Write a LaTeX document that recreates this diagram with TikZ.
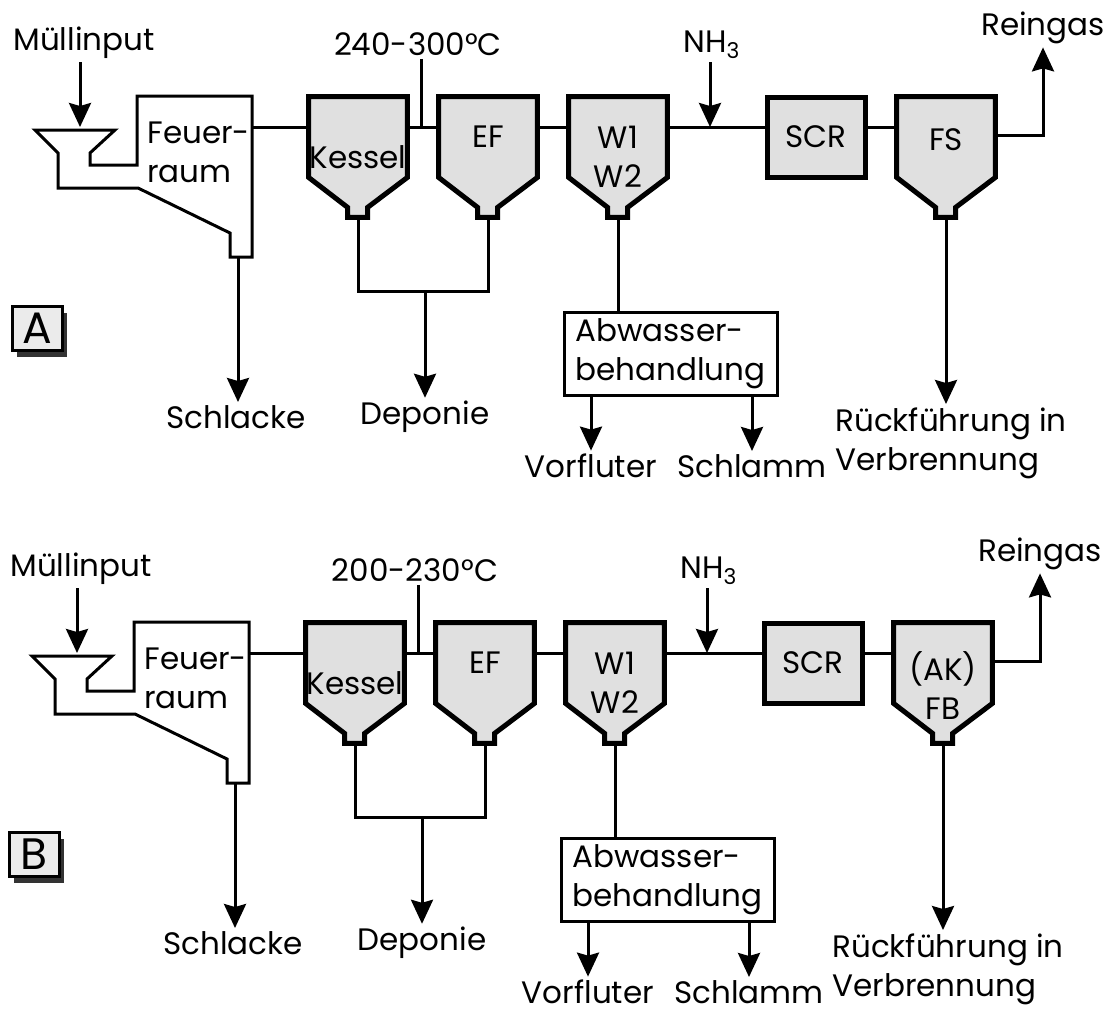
\documentclass[tikz,border=0pt]{standalone}
\usepackage{fontspec}
\setmainfont{Poppins}
\usetikzlibrary{arrows.meta,positioning,shadows}

\begin{document}
\begin{tikzpicture}[x=0.5pt,y=-0.5pt,
  font=\fontsize{15.5}{19.5}\selectfont,
  flow/.style={line width=1.5pt},
  feed/.style={flow,-{Stealth[length=12pt,width=11pt,inset=1.5pt]}},
  unit/.style={draw,line width=2.5pt,fill=black!12},
  body/.style={rectangle,minimum width=49pt,minimum height=40pt,inner sep=0pt},
  lbl/.style={inner sep=1.5pt,align=center},
  tag/.style={draw,line width=1.5pt,fill=black!8,minimum width=25pt,minimum height=22pt,
    inner sep=0pt,font=\fontsize{22}{22}\selectfont,
    general shadow={shadow xshift=2.5pt,shadow yshift=-3.5pt,fill=black!80}}]
  \useasboundingbox (0,0) rectangle (1107,1017);
  % hopper shaped unit: name, centre x, centre y, text drop, text
  \newcommand{\vessel}[5]{
    \node[body] (#1) at (#2,#3) {};
    \draw[unit] (#1.north west) -- (#1.south west) -- ++(39,30) -- ++(0,10)
      -- ++(20,0) -- ++(0,-10) -- (#1.south east) -- (#1.north east) -- cycle;
    \coordinate (#1-neck) at ([yshift=-20pt]#1.south);
    \node[lbl] (#1-txt) at ([yshift=-#4pt]#1) {#5};
  }
  \foreach \p/\sx/\sy/\range/\filt/\drop in
    {A/0/0/240-300/FS/1.5, B/-3/526/200-230/{(AK)\\FB}/11.5}{
  \begin{scope}[shift={(\sx,\sy)}]
    % feed hopper and furnace
    \draw[line width=1.5pt] (35,130) -- (115,130) -- (90,153) -- (90,165) -- (137,165)
      -- (137,96) -- (252,96) -- (252,257) -- (230,257) -- (230,233)
      -- (138,188) -- (58,188) -- (58,153) -- cycle;
    \node[anchor=west,align=left,inner sep=0pt] (feuer\p) at (147,152) {Feuer-\\raum};
    \coordinate (hopper\p) at (80,127);
    \coordinate (ofen\p) at (252,127);
    \coordinate (asche\p) at (238,257);
    \node[lbl] (muell\p) at (84,43) {Müllinput};
    \draw[feed] (muell\p.south -| hopper\p) -- (hopper\p);
    % gas path
    \vessel{kessel\p}{358}{137}{10}{Kessel}
    \vessel{ef\p}{488}{137}{0}{EF}
    \vessel{w\p}{618}{137}{10}{W1\\W2}
    \node[body,unit] (scr\p) at (816,137) {SCR};
    \vessel{fs\p}{946}{137}{\drop}{\filt}
    \draw[flow] (ofen\p) -- ([yshift=5pt]kessel\p.west);
    \foreach \a/\b in {kessel/ef,ef/w,w/scr,scr/fs}
      \draw[flow] ([yshift=5pt]\a\p.east) -- ([yshift=5pt]\b\p.west);
    \coordinate (tap\p) at (421,127);
    \node[lbl] (temp\p) at (418,44) {{\range}°C};
    \draw[flow] (temp\p.south -| tap\p) -- (tap\p);
    \coordinate (nh\p) at (710,127);
    \node[lbl] (ammo\p) at (712,45) {NH\textsubscript{3}};
    \draw[feed] (ammo\p.south -| nh\p) -- (nh\p);
    \node[lbl] (rein\p) at (1043,28) {Reingas};
    \draw[feed] ([yshift=1pt]fs\p.east) -| (rein\p);
    % residues
    \node[lbl] (schlacke\p) at (236,417) {Schlacke};
    \draw[feed] (asche\p) -- (asche\p |- schlacke\p.north);
    \coordinate (fork\p) at (425,291);
    \draw[flow] (kessel\p-neck) |- (fork\p) -| (ef\p-neck);
    \node[lbl] (deponie\p) at (425,417) {Deponie};
    \draw[feed] (fork\p) -- (deponie\p);
    \node[draw,line width=1.5pt,minimum width=106.5pt,minimum height=41.5pt,
      align=left,inner sep=0pt] (abw\p) at (670.5,353.5) {Abwasser-\\behandlung};
    \draw[flow] (w\p-neck) -- (w\p-neck |- abw\p.north);
    \node[lbl] (vorfluter\p) at (591,466) {Vorfluter};
    \node[lbl] (schlamm\p) at (752,466) {Schlamm};
    \draw[feed] (vorfluter\p |- abw\p.south) -- (vorfluter\p);
    \draw[feed] (schlamm\p |- abw\p.south) -- (schlamm\p);
    \node[lbl,anchor=north west,align=left] (rueck\p) at (832,404) {Rückführung in\\Verbrennung};
    \draw[feed] (fs\p-neck) -- (fs\p-neck |- rueck\p.north);
    \node[tag] (tag\p) at (37,328) {\p};
  \end{scope}}
\end{tikzpicture}
\end{document}
